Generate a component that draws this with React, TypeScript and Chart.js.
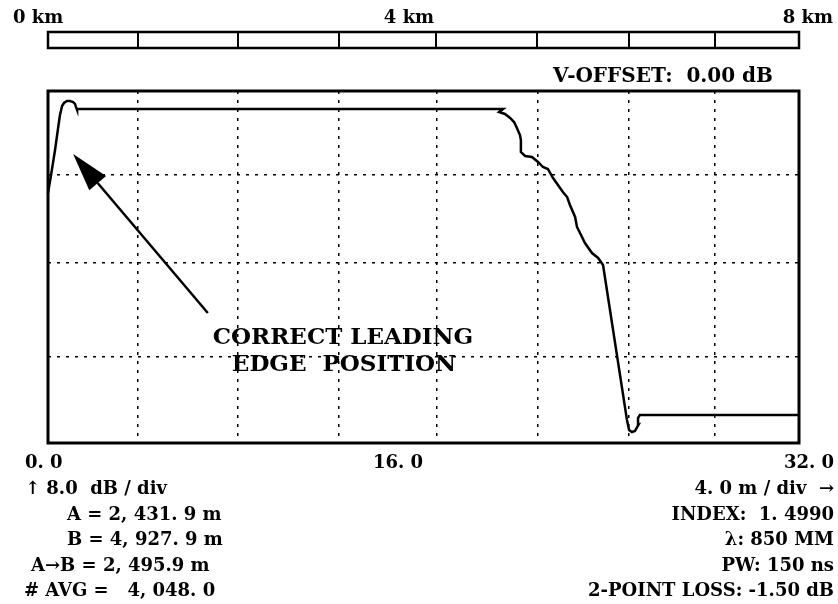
import React, { useEffect, useRef } from "react";
import { Chart, registerables } from "chart.js";

Chart.register(...registerables);

// OTDR trace: distance (m, 0..32) vs level (dB, 0..32 shown as 4 div x 8 dB)
const TRACE_X = [
  0, 0.13, 0.3, 0.43, 0.51, 0.6, 0.68, 0.81, 0.94, 1.07, 1.15, 1.19, 1.24, 1.24,
  19.39, 19.22, 19.47, 19.69, 19.86, 19.98, 20.11, 20.15, 20.15, 20.33, 20.62,
  20.88, 21.09, 21.3, 21.52, 21.73, 21.94, 22.12, 22.24, 22.46, 22.54, 22.67,
  22.88, 23.18, 23.44, 23.65, 24.67, 24.76, 24.88, 25.01, 25.18, 25.14, 25.22, 32,
];
const TRACE_Y = [
  22.73, 24.36, 26.64, 28.64, 29.82, 30.64, 30.91, 31.09, 31.09, 31.0, 30.82,
  30.55, 30.27, 30.36, 30.36, 30.09, 29.91, 29.55, 29.18, 28.64, 28.0, 27.55,
  26.45, 26.09, 26.0, 25.55, 25.09, 24.91, 24.09, 23.45, 22.82, 22.36, 21.64,
  20.55, 19.64, 19.09, 18.18, 17.27, 16.82, 16.18, 2.09, 1.18, 1.0, 1.09, 1.73,
  2.27, 2.55, 2.55,
];

const GRID_X = [0, 3.83, 8.1, 12.4, 16.55, 20.85, 24.75, 28.4, 32];
const GRID_Y = [0, 7.8, 16.4, 24.4, 32];

const SCALE_LABELS = ["0 km", "4 km", "8 km"];
const AXIS_LABELS = ["0. 0", "16. 0", "32. 0"];
const OFFSET_LABEL = "V-OFFSET:  0.00 dB";
const LEFT_INFO = [
  "\u2191 8.0  dB / div",
  "A = 2, 431. 9 m",
  "B = 4, 927. 9 m",
  "A\u2192B = 2, 495.9 m",
  "# AVG =   4, 048. 0",
];
const RIGHT_INFO = [
  "4. 0 m / div  \u2192",
  "INDEX:  1. 4990",
  "\u03bb: 850 MM",
  "PW: 150 ns",
  "2-POINT LOSS: -1.50 dB",
];
const CALLOUT = ["CORRECT LEADING", "EDGE  POSITION"];
const ARROW_TIP = { x: 1.07, y: 26.27 };
const ARROW_TAIL = { x: 6.81, y: 11.82 };

const FONT = '"DejaVu Serif", "Liberation Serif", serif';

const decorPlugin = {
  id: "decor",
  afterDraw(chart: any) {
    const { ctx, chartArea, scales } = chart;
    const xs = scales.x;
    const ys = scales.y;
    ctx.save();
    ctx.strokeStyle = "#000";
    ctx.fillStyle = "#000";

    // plot frame
    ctx.lineWidth = 3;
    ctx.setLineDash([]);
    ctx.strokeRect(
      chartArea.left,
      chartArea.top,
      chartArea.right - chartArea.left,
      chartArea.bottom - chartArea.top
    );

    // distance scale bar
    const barTop = 32;
    const barBot = 48;
    const bl = xs.getPixelForValue(GRID_X[0]);
    const br = xs.getPixelForValue(GRID_X[GRID_X.length - 1]);
    ctx.lineWidth = 2.5;
    ctx.strokeRect(bl, barTop, br - bl, barBot - barTop);
    ctx.lineWidth = 2;
    for (let i = 1; i < GRID_X.length - 1; i++) {
      const px = Math.round(xs.getPixelForValue(GRID_X[i]));
      ctx.beginPath();
      ctx.moveTo(px, barTop);
      ctx.lineTo(px, barBot);
      ctx.stroke();
    }

    // arrow
    const tx = xs.getPixelForValue(ARROW_TIP.x);
    const ty = ys.getPixelForValue(ARROW_TIP.y);
    const ex = xs.getPixelForValue(ARROW_TAIL.x);
    const ey = ys.getPixelForValue(ARROW_TAIL.y);
    const len = Math.hypot(tx - ex, ty - ey);
    const ux = (tx - ex) / len;
    const uy = (ty - ey) / len;
    const headLen = 38;
    const halfW = 11;
    const bx = tx - ux * headLen;
    const by = ty - uy * headLen;
    ctx.lineWidth = 2.5;
    ctx.beginPath();
    ctx.moveTo(ex, ey);
    ctx.lineTo(bx, by);
    ctx.stroke();
    ctx.beginPath();
    ctx.moveTo(tx, ty);
    ctx.lineTo(bx - uy * halfW, by + ux * halfW);
    ctx.lineTo(bx + uy * halfW, by - ux * halfW);
    ctx.closePath();
    ctx.fill();

    // texts
    ctx.textBaseline = "alphabetic";
    ctx.font = `bold 18px ${FONT}`;
    ctx.textAlign = "left";
    ctx.fillText(SCALE_LABELS[0], 13, 23);
    ctx.textAlign = "center";
    ctx.fillText(SCALE_LABELS[1], 409, 23);
    ctx.textAlign = "right";
    ctx.fillText(SCALE_LABELS[2], 833, 23);

    ctx.font = `bold 20px ${FONT}`;
    ctx.fillText(OFFSET_LABEL, 773, 82);
    ctx.font = `bold 18px ${FONT}`;

    ctx.textAlign = "left";
    ctx.fillText(AXIS_LABELS[0], 25, 468);
    ctx.textAlign = "center";
    ctx.fillText(AXIS_LABELS[1], 398, 468);
    ctx.textAlign = "right";
    ctx.fillText(AXIS_LABELS[2], 834, 468);

    const leftX = [25, 67, 67, 31, 24];
    const rowY = [494, 520, 545, 571, 596];
    ctx.textAlign = "left";
    LEFT_INFO.forEach((t, i) => ctx.fillText(t, leftX[i], rowY[i]));
    ctx.textAlign = "right";
    RIGHT_INFO.forEach((t, i) => ctx.fillText(t, 834, rowY[i]));

    ctx.font = `bold 23px ${FONT}`;
    ctx.textAlign = "center";
    ctx.fillText(CALLOUT[0], 343, 344);
    ctx.fillText(CALLOUT[1], 344, 371);

    ctx.restore();
  },
};

export default function App() {
  const ref = useRef<HTMLCanvasElement | null>(null);

  useEffect(() => {
    if (!ref.current) return;
    const data = TRACE_X.map((x, i) => ({ x, y: TRACE_Y[i] }));
    const chart = new Chart(ref.current, {
      type: "line",
      data: {
        datasets: [
          {
            data,
            borderColor: "#000",
            borderWidth: 2.5,
            pointRadius: 0,
            tension: 0,
            fill: false,
            clip: false as any,
          },
        ],
      },
      options: {
        responsive: false,
        animation: false,
        devicePixelRatio: 1,
        layout: { padding: { left: 48, top: 91, right: 39, bottom: 161 } },
        plugins: { legend: { display: false }, tooltip: { enabled: false } },
        scales: {
          x: {
            type: "linear",
            min: 0,
            max: 32,
            afterBuildTicks: (s: any) => {
              s.ticks = GRID_X.map((v) => ({ value: v }));
            },
            afterFit: (s: any) => {
              s.height = 0;
            },
            ticks: { display: false },
            grid: { color: "#000", lineWidth: 1.5, drawTicks: false },
            border: { display: false, dash: [3, 6] },
          },
          y: {
            type: "linear",
            min: 0,
            max: 32,
            afterBuildTicks: (s: any) => {
              s.ticks = GRID_Y.map((v) => ({ value: v }));
            },
            afterFit: (s: any) => {
              s.width = 0;
            },
            ticks: { display: false },
            grid: { color: "#000", lineWidth: 1.5, drawTicks: false },
            border: { display: false, dash: [3, 6] },
          },
        },
      },
      plugins: [decorPlugin],
    });
    return () => chart.destroy();
  }, []);

  return (
    <div
      style={{
        position: "fixed",
        left: 0,
        top: 0,
        width: 838,
        height: 604,
        background: "#fff",
      }}
    >
      <canvas ref={ref} width={838} height={604} style={{ display: "block" }} />
    </div>
  );
}
